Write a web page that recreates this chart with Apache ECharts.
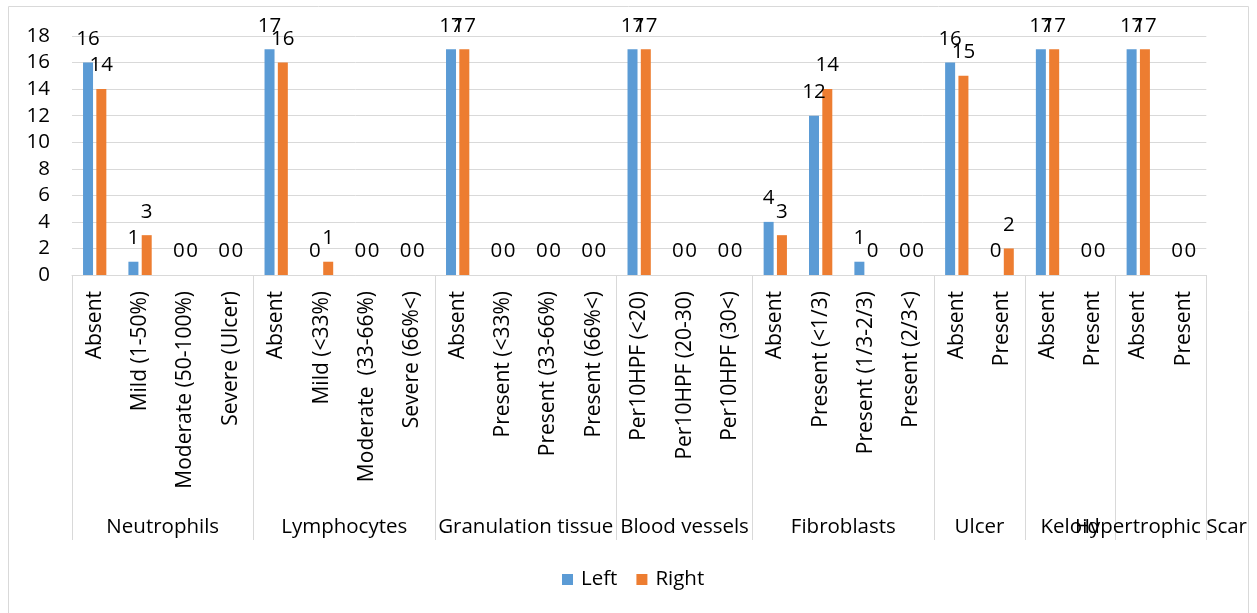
<!DOCTYPE html>
<html>
<head>
<meta charset="utf-8">
<script src="https://cdn.jsdelivr.net/npm/echarts@6/dist/echarts.min.js"></script>
<style>
  html, body { margin: 0; padding: 0; background: #fff; }
  #chart { position: absolute; left: 0; top: 0; width: 1250px; height: 613px; }
</style>
</head>
<body>
<div id="chart"></div>
<script>
// Histological findings, left vs right side
const groupNames = ['Neutrophils', 'Lymphocytes', 'Granulation tissue', 'Blood vessels',
                    'Fibroblasts', 'Ulcer', 'Keloid', 'Hypertrophic Scar'];
const subLabels = [
  ['Absent', 'Mild (1-50%)', 'Moderate (50-100%)', 'Severe (Ulcer)'],
  ['Absent', 'Mild (<33%)', 'Moderate  (33-66%)', 'Severe (66%<)'],
  ['Absent', 'Present (<33%)', 'Present (33-66%)', 'Present (66%<)'],
  ['Per10HPF (<20)', 'Per10HPF (20-30)', 'Per10HPF (30<)'],
  ['Absent', 'Present (<1/3)', 'Present (1/3-2/3)', 'Present (2/3<)'],
  ['Absent', 'Present'],
  ['Absent', 'Present'],
  ['Absent', 'Present']
];
const leftValues = [
  [16, 1, 0, 0],
  [17, 0, 0, 0],
  [17, 0, 0, 0],
  [17, 0, 0],
  [4, 12, 1, 0],
  [16, 0],
  [17, 0],
  [17, 0]
];
const rightValues = [
  [14, 3, 0, 0],
  [16, 1, 0, 0],
  [17, 0, 0, 0],
  [17, 0, 0],
  [3, 14, 0, 0],
  [15, 2],
  [17, 0],
  [17, 0]
];
const seriesNames = ['Left', 'Right'];
const yMin = 0, yMax = 18, yStep = 2;

const FONT = '"Open Sans"';
const FS = 20.5;
const TEXT = '#000';
const GRID = '#D9D9D9';

const categories = subLabels.flat();
const nCat = categories.length;

// Outer axis: half-category slots so group names sit at group centres
// and separator ticks sit on group boundaries.
const groupSlots = new Array(2 * nCat + 1).fill('');
const separatorSlots = new Set([0]);
let start = 0;
subLabels.forEach((items, g) => {
  const end = start + items.length;
  groupSlots[start + end] = groupNames[g];
  separatorSlots.add(2 * end);
  start = end;
});

const gridTop = 36, gridBottom = 338;
const axisY = 613 - gridBottom;
const outerOffset = 540 - axisY;

const chart = echarts.init(document.getElementById('chart'), null, { renderer: 'canvas' });

chart.setOption({
  animation: false,
  textStyle: { fontFamily: FONT },
  grid: { left: 72, right: 30, top: gridTop, bottom: gridBottom, containLabel: false },
  legend: {
    data: seriesNames,
    left: 557,
    top: 564,
    icon: 'rect',
    itemWidth: 11,
    itemHeight: 11,
    itemGap: 19,
    textStyle: { fontFamily: FONT, fontSize: FS, color: TEXT, padding: [0, 0, 0, 3] }
  },
  graphic: [{
    type: 'rect',
    shape: { x: 8.5, y: 6.5, width: 1240, height: 640 },
    style: { fill: 'none', stroke: GRID, lineWidth: 1 },
    silent: true
  }],
  xAxis: [
    {
      type: 'category',
      data: categories,
      position: 'bottom',
      axisLine: { show: true, lineStyle: { color: GRID, width: 1 } },
      axisTick: { show: false },
      axisLabel: {
        interval: 0,
        rotate: 90,
        margin: 16,
        fontFamily: FONT,
        fontSize: 21,
        color: TEXT
      },
      splitLine: { show: false }
    },
    {
      type: 'category',
      data: groupSlots,
      position: 'bottom',
      offset: outerOffset,
      boundaryGap: false,
      axisLine: { show: false },
      axisTick: {
        show: true,
        inside: true,
        length: outerOffset,
        interval: (idx) => separatorSlots.has(idx),
        lineStyle: { color: GRID, width: 1 }
      },
      axisLabel: {
        interval: 0,
        inside: true,
        margin: 2,
        fontFamily: FONT,
        fontSize: FS,
        color: TEXT
      },
      splitLine: { show: false }
    }
  ],
  yAxis: {
    type: 'value',
    min: yMin,
    max: yMax,
    interval: yStep,
    axisLine: { show: false },
    axisTick: { show: false },
    axisLabel: { margin: 22, fontFamily: FONT, fontSize: FS, color: TEXT },
    splitLine: { show: true, lineStyle: { color: GRID, width: 1 } }
  },
  series: [
    {
      name: seriesNames[0],
      type: 'bar',
      xAxisIndex: 0,
      data: leftValues.flat(),
      barWidth: 10,
      barGap: '33%',
      itemStyle: { color: '#5B9BD5' },
      label: { show: true, position: 'top', distance: 13, fontFamily: FONT, fontSize: FS, color: TEXT }
    },
    {
      name: seriesNames[1],
      type: 'bar',
      xAxisIndex: 0,
      data: rightValues.flat(),
      barWidth: 10,
      itemStyle: { color: '#ED7D31' },
      label: { show: true, position: 'top', distance: 13, fontFamily: FONT, fontSize: FS, color: TEXT }
    }
  ]
});
</script>
</body>
</html>
